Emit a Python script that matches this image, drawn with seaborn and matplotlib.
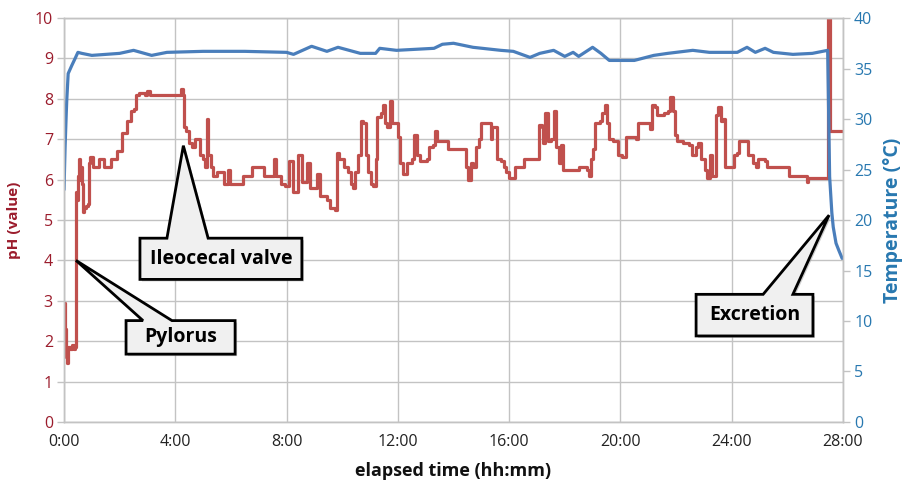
import numpy as np
import pandas as pd
import seaborn as sns
import matplotlib.pyplot as plt
from matplotlib.patches import Polygon
from matplotlib.transforms import ScaledTranslation

# pH trace (elapsed hours, pH)
ph_hours = [0.00, 0.03, 0.08, 0.12, 0.16, 0.22, 0.28, 0.36, 0.40, 0.42, 0.44, 0.47, 0.50, 0.53, 0.56, 0.60,
            0.64, 0.67, 0.72, 0.80, 0.87, 0.90, 0.95, 1.05, 1.15, 1.25, 1.35, 1.45, 1.60, 1.70, 1.90, 2.07,
            2.25, 2.40, 2.50, 2.58, 2.70, 2.90, 3.00, 3.10, 3.50, 4.00, 4.15, 4.22, 4.28, 4.32, 4.40, 4.50,
            4.60, 4.70, 4.80, 4.90, 5.00, 5.07, 5.13, 5.17, 5.30, 5.37, 5.50, 5.65, 5.75, 5.90, 5.97, 6.10,
            6.30, 6.45, 6.70, 6.75, 7.10, 7.20, 7.45, 7.55, 7.62, 7.80, 7.95, 8.10, 8.22, 8.30, 8.42, 8.55,
            8.65, 8.72, 8.85, 8.97, 9.10, 9.20, 9.45, 9.55, 9.75, 9.80, 9.90, 10.05, 10.20, 10.30, 10.37, 10.45,
            10.57, 10.68, 10.75, 10.85, 10.92, 11.05, 11.12, 11.20, 11.25, 11.40, 11.47, 11.55, 11.62, 11.70, 11.80, 11.90,
            12.00, 12.08, 12.20, 12.32, 12.50, 12.57, 12.70, 12.80, 13.05, 13.12, 13.25, 13.35, 13.42, 13.75, 13.80, 14.35,
            14.45, 14.52, 14.62, 14.70, 14.80, 14.90, 15.00, 15.25, 15.35, 15.40, 15.55, 15.70, 15.80, 15.90, 16.00, 16.15,
            16.20, 16.50, 16.55, 17.00, 17.07, 17.17, 17.22, 17.30, 17.38, 17.50, 17.60, 17.68, 17.80, 17.88, 17.95, 18.20,
            18.50, 18.80, 18.87, 18.95, 19.02, 19.10, 19.25, 19.35, 19.45, 19.50, 19.58, 19.75, 19.90, 20.05, 20.20, 20.55,
            20.62, 21.05, 21.15, 21.25, 21.30, 21.55, 21.70, 21.78, 21.85, 21.90, 21.95, 22.05, 22.25, 22.45, 22.58, 22.70,
            22.80, 22.90, 23.05, 23.12, 23.22, 23.30, 23.42, 23.52, 23.62, 23.70, 23.77, 24.00, 24.08, 24.20, 24.27, 24.50,
            24.60, 24.75, 24.87, 24.95, 25.20, 25.28, 26.00, 26.05, 26.70, 26.72, 26.76, 27.40, 27.45, 27.47, 27.52, 27.97]
ph_values = [2.95, 2.3, 1.6, 1.45, 1.85, 1.8, 1.9, 1.8, 1.85, 4.0, 5.7, 5.5, 6.1, 6.5, 6.0, 6.3,
             5.9, 5.2, 5.3, 5.35, 5.4, 6.4, 6.55, 6.3, 6.3, 6.5, 6.5, 6.3, 6.3, 6.5, 6.7, 7.15,
             7.45, 7.7, 7.75, 8.1, 8.15, 8.1, 8.2, 8.1, 8.1, 8.1, 8.1, 8.25, 8.1, 7.3, 7.2, 6.9,
             6.8, 7.0, 7.0, 6.6, 6.5, 6.3, 7.5, 6.6, 6.3, 6.1, 6.2, 6.2, 5.9, 6.25, 5.9, 5.9,
             5.9, 6.1, 6.1, 6.3, 6.3, 6.1, 6.1, 6.5, 6.1, 5.9, 5.85, 6.45, 5.7, 5.7, 6.6, 5.95,
             5.95, 6.4, 5.8, 5.8, 6.15, 5.6, 5.5, 5.3, 5.25, 6.65, 6.5, 6.3, 6.2, 5.9, 5.8, 6.2,
             6.6, 7.45, 7.4, 6.6, 6.2, 5.9, 5.85, 6.5, 7.55, 7.65, 7.85, 7.4, 7.3, 7.95, 7.4, 7.4,
             7.05, 6.4, 6.15, 6.4, 6.5, 7.1, 6.6, 6.45, 6.5, 6.8, 6.85, 7.2, 6.95, 6.95, 6.75, 6.75,
             6.3, 6.0, 6.4, 6.3, 6.8, 7.0, 7.4, 7.4, 7.0, 7.3, 6.5, 6.45, 6.3, 6.2, 6.05, 6.05,
             6.3, 6.3, 6.5, 6.5, 7.35, 7.3, 6.9, 7.65, 6.95, 7.0, 7.7, 6.8, 6.4, 6.85, 6.25, 6.25,
             6.3, 6.25, 6.1, 6.5, 6.75, 7.4, 7.45, 7.65, 7.85, 7.4, 7.0, 6.95, 6.6, 6.55, 7.05, 7.0,
             7.4, 7.25, 7.85, 7.8, 7.6, 7.65, 7.7, 8.05, 8.05, 7.7, 7.1, 6.95, 6.9, 6.85, 6.6, 6.8,
             6.9, 6.5, 6.25, 6.05, 6.6, 6.1, 7.6, 7.8, 7.45, 7.5, 6.3, 6.3, 6.6, 6.65, 6.95, 6.95,
             6.6, 6.4, 6.3, 6.5, 6.45, 6.3, 6.3, 6.1, 6.05, 5.95, 6.05, 6.05, 6.1, 10.5, 7.2, 7.2]

# temperature trace (elapsed hours, degC)
temp_hours = [0.00, 0.04, 0.08, 0.10, 0.15, 0.28, 0.40, 0.50, 0.64, 1.00, 1.50, 2.00, 2.50, 3.15, 3.70, 5.00,
              6.50, 8.00, 8.25, 8.90, 9.45, 9.85, 10.65, 11.20, 11.35, 11.95, 13.30, 13.60, 14.00, 14.70, 15.70, 16.15,
              16.75, 17.10, 17.60, 18.00, 18.30, 18.50, 19.00, 19.30, 19.60, 20.00, 20.50, 21.20, 21.70, 22.60, 23.20, 24.20,
              24.55, 24.85, 25.20, 25.50, 26.20, 26.90, 27.45, 27.52, 27.60, 27.65, 27.75, 27.85, 27.97]
temp_values = [23.0, 27.3, 30.5, 31.9, 34.5, 35.3, 36.0, 36.6, 36.5, 36.3, 36.4, 36.5, 36.8, 36.3, 36.6, 36.7,
               36.7, 36.6, 36.4, 37.2, 36.7, 37.1, 36.5, 36.5, 37.0, 36.8, 37.0, 37.4, 37.5, 37.1, 36.8, 36.7,
               36.1, 36.5, 36.8, 36.2, 36.6, 36.2, 37.1, 36.5, 35.8, 35.8, 35.8, 36.3, 36.5, 36.8, 36.6, 36.6,
               37.1, 36.6, 37.0, 36.6, 36.4, 36.5, 36.8, 24.3, 20.7, 19.3, 17.7, 17.0, 16.2]

x_ticks = [0, 4, 8, 12, 16, 20, 24, 28]
x_tick_labels = ["0:00", "4:00", "8:00", "12:00", "16:00", "20:00", "24:00", "28:00"]

# callouts: label, tip (hours, pH), box (x0, x1, y0, y1), wedge base (xa, xb)
callouts = [
    ("Pylorus", (0.43, 4.0), (2.23, 6.15, 1.68, 2.51), (2.84, 3.88)),
    ("Ileocecal valve", (4.29, 6.84), (2.73, 8.55, 3.53, 4.55), (3.70, 5.18)),
    ("Excretion", (27.5, 5.12), (22.72, 26.92, 2.13, 3.16), (25.13, 26.2)),
]

ph_df = pd.DataFrame({"hours": ph_hours, "pH": ph_values})
temp_df = pd.DataFrame({"hours": temp_hours, "temp": temp_values})

red = "#c0504d"
blue = "#4a7ebb"
red_text = "#9b1c2c"
blue_text = "#2878b0"
grid_col = "#c3c3c3"

sns.set_style("whitegrid")
plt.rcParams['font.family'] = ['Open Sans', 'DejaVu Sans']

fig = plt.figure(figsize=(9.04, 4.83), dpi=100)
ax1 = fig.add_axes([0.0708, 0.1263, 0.8617, 0.8364])
ax2 = ax1.twinx()

# pH logger holds readings, so draw it as steps
sns.lineplot(data=ph_df, x="hours", y="pH", ax=ax1, color=red, linewidth=2.3,
             estimator=None, sort=False, drawstyle="steps-post")
sns.lineplot(data=temp_df, x="hours", y="temp", ax=ax2, color=blue, linewidth=2.3,
             estimator=None, sort=False)

ax1.set_xlim(0, 28)
ax1.set_ylim(0, 10)
ax2.set_ylim(0, 40)
ax1.set_xticks(x_ticks)
ax1.set_xticklabels(x_tick_labels)
ax1.set_yticks(range(0, 11))
ax2.set_yticks(range(0, 41, 5))
ax2.grid(False)
ax1.grid(True, color=grid_col, linewidth=1.0)

for ax in (ax1, ax2):
    for s in ax.spines.values():
        s.set_color(grid_col)
        s.set_linewidth(1.0)

ax1.tick_params(axis="x", colors="#222222", labelsize=11.5, length=5, width=1, color=grid_col, pad=4)
ax1.tick_params(axis="y", labelcolor=red_text, labelsize=11.5, length=5, width=1, color=grid_col, pad=3)
ax2.tick_params(axis="y", labelcolor=blue_text, labelsize=11.5, length=5, width=1, color=grid_col, pad=3)

ax1.set_xlabel("elapsed time (hh:mm)", fontsize=13, fontweight="bold", color="#111111", labelpad=8)
ax1.set_ylabel("pH (value)", fontsize=11, fontweight="bold", color=red_text, labelpad=10)
ax2.set_ylabel("Temperature (°C)", fontsize=14, fontweight="bold", color=blue_text, labelpad=8)

for label, tip, box, base in callouts:
    x0, x1, y0, y1 = box
    xa, xb = base
    pts = [(x0, y0), (x1, y0), (x1, y1), (xb, y1), tip, (xa, y1), (x0, y1)]
    shadow = Polygon(pts, closed=True, facecolor="#9a9a9a", edgecolor="none", alpha=0.5, zorder=9,
                     transform=ax1.transData + ScaledTranslation(2 / 100, -2 / 100, fig.dpi_scale_trans))
    ax2.add_patch(shadow)
    ax2.add_patch(Polygon(pts, closed=True, facecolor="#f0f0f0", edgecolor="black", linewidth=2,
                          joinstyle="miter", transform=ax1.transData, zorder=10))
    ax2.text((x0 + x1) / 2, (y0 + y1) / 2, label, transform=ax1.transData, ha="center", va="center",
             fontsize=14, fontweight="bold", color="black", zorder=11)

fig.savefig("out.png", dpi=100)
